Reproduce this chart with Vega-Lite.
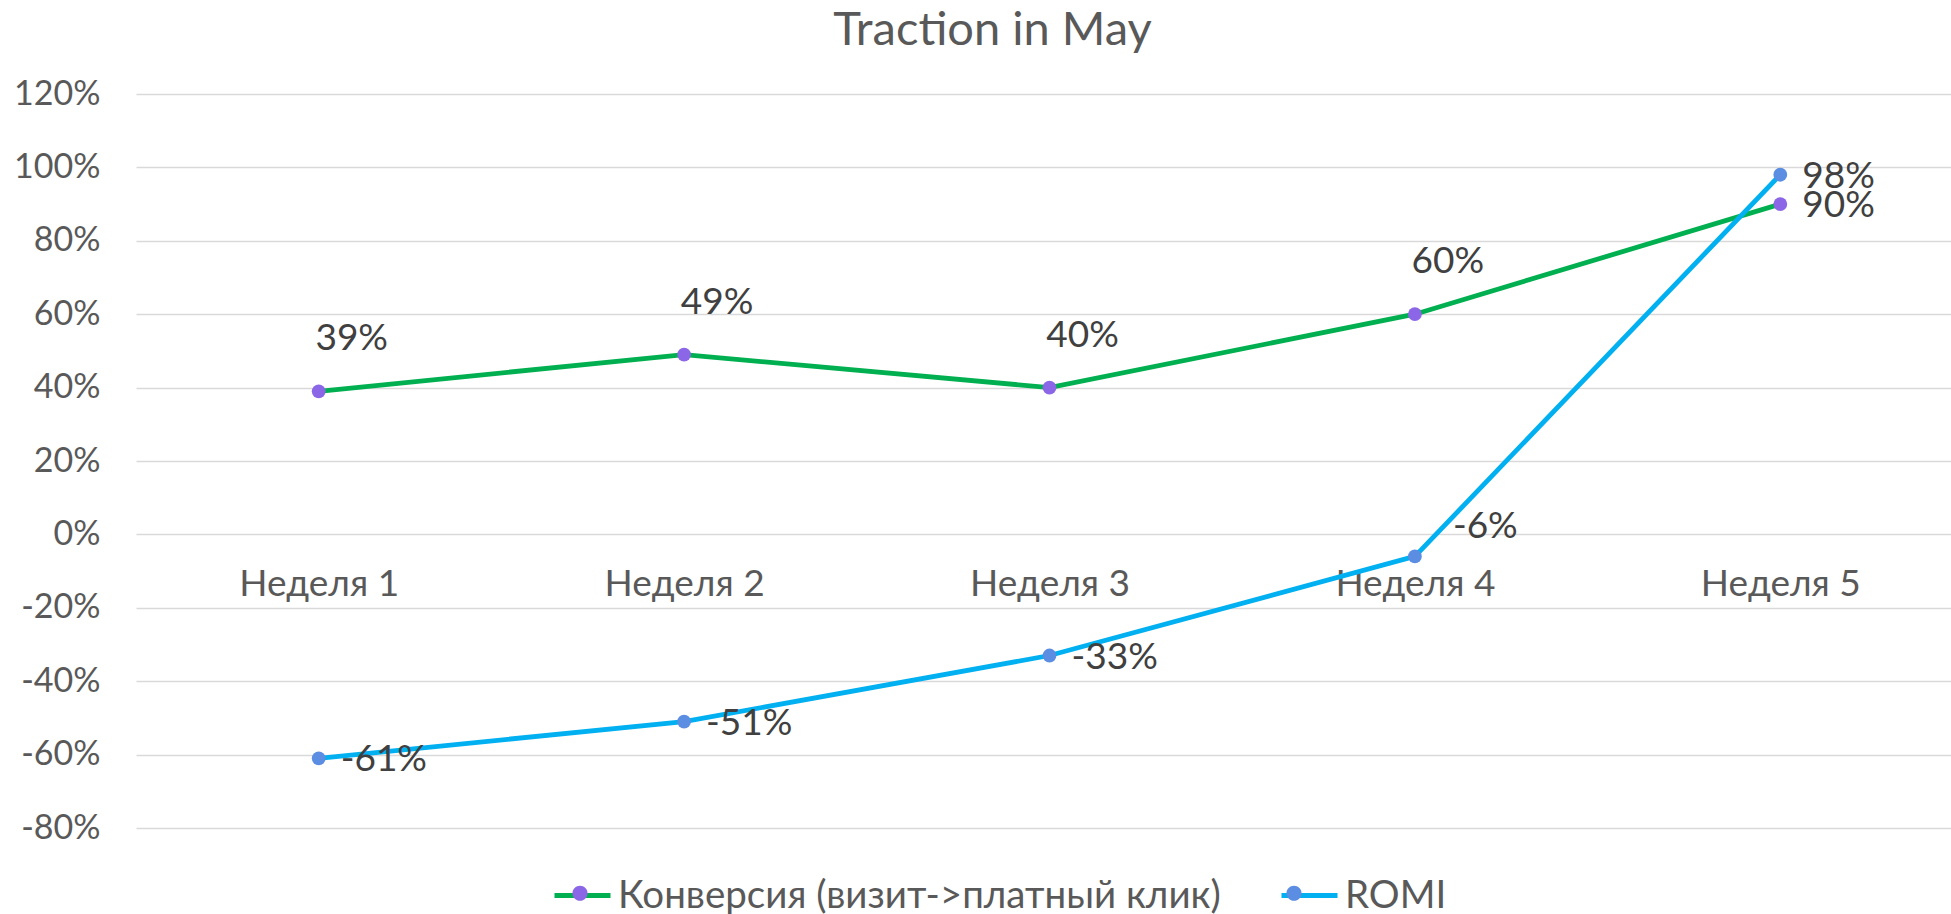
{
  "$schema": "https://vega.github.io/schema/vega-lite/v6.json",
  "width": 1827,
  "height": 734,
  "autosize": {"type": "none"},
  "padding": {"left": 136, "top": 94, "right": -12, "bottom": 86},
  "background": "white",
  "title": {
    "text": "Traction in May",
    "fontSize": 47,
    "font": "Lato",
    "fontWeight": "normal",
    "color": "#595959",
    "anchor": "middle",
    "dx": -57,
    "offset": 22
  },
  "config": {
    "view": {"stroke": null},
    "font": "Lato"
  },
  "data": {
    "values": [
      {"week": "Неделя 1", "series": "Конверсия (визит->платный клик)", "value": 0.39, "label": "39%"},
      {"week": "Неделя 2", "series": "Конверсия (визит->платный клик)", "value": 0.49, "label": "49%"},
      {"week": "Неделя 3", "series": "Конверсия (визит->платный клик)", "value": 0.40, "label": "40%"},
      {"week": "Неделя 4", "series": "Конверсия (визит->платный клик)", "value": 0.60, "label": "60%"},
      {"week": "Неделя 5", "series": "Конверсия (визит->платный клик)", "value": 0.90, "label": "90%"},
      {"week": "Неделя 1", "series": "ROMI", "value": -0.61, "label": "-61%"},
      {"week": "Неделя 2", "series": "ROMI", "value": -0.51, "label": "-51%"},
      {"week": "Неделя 3", "series": "ROMI", "value": -0.33, "label": "-33%"},
      {"week": "Неделя 4", "series": "ROMI", "value": -0.06, "label": "-6%"},
      {"week": "Неделя 5", "series": "ROMI", "value": 0.98, "label": "98%"}
    ]
  },
  "encoding": {
    "x": {
      "field": "week",
      "type": "ordinal",
      "sort": null,
      "scale": {"type": "point", "padding": 0.5},
      "axis": {
        "title": null,
        "orient": "bottom",
        "offset": -294,
        "domain": false,
        "ticks": false,
        "grid": false,
        "labelAngle": 0,
        "labelPadding": 32,
        "labelFontSize": 37,
        "labelColor": "#595959",
        "labelFont": "Lato"
      }
    },
    "y": {
      "field": "value",
      "type": "quantitative",
      "scale": {"domain": [-0.8, 1.2], "nice": false, "zero": false},
      "axis": {
        "title": null,
        "values": [-0.8, -0.6, -0.4, -0.2, 0, 0.2, 0.4, 0.6, 0.8, 1.0, 1.2],
        "format": ".0%",
        "labelExpr": "replace(datum.label, '\u2212', '-')",
        "domain": false,
        "ticks": false,
        "grid": true,
        "gridColor": "#D9D9D9",
        "gridWidth": 1.6,
        "labelPadding": 36,
        "labelFontSize": 34,
        "labelColor": "#595959",
        "labelFont": "Lato"
      }
    }
  },
  "layer": [
    {
      "mark": {"type": "line", "strokeWidth": 4.8},
      "encoding": {
        "stroke": {
          "field": "series",
          "type": "nominal",
          "scale": {"domain": ["Конверсия (визит->платный клик)", "ROMI"], "range": ["#00B050", "#00B0F0"]},
          "legend": {
            "title": null,
            "orient": "none",
            "direction": "horizontal",
            "legendX": 416,
            "legendY": 771,
            "padding": 0,
            "symbolType": "stroke",
            "symbolSize": 3136,
            "symbolStrokeWidth": 5,
            "labelFontSize": 38.5,
            "labelColor": "#595959",
            "labelFont": "Lato",
            "labelLimit": 0,
            "labelOffset": 5,
            "columnPadding": 50
          }
        }
      }
    },
    {
      "mark": {"type": "point", "filled": true, "size": 190, "opacity": 1},
      "encoding": {
        "fill": {
          "field": "series",
          "type": "nominal",
          "scale": {"domain": ["Конверсия (визит->платный клик)", "ROMI"], "range": ["#8B66E6", "#5B8DE2"]},
          "legend": {
            "title": null,
            "orient": "none",
            "direction": "horizontal",
            "legendX": 416,
            "legendY": 771,
            "padding": 0,
            "symbolType": "M-0.27,0A0.27,0.27,0,1,1,0.27,0A0.27,0.27,0,1,1,-0.27,0Z",
            "symbolSize": 3136,
            "symbolStrokeWidth": 0,
            "symbolOpacity": 1,
            "labelFontSize": 38.5,
            "labelColor": "#595959",
            "labelFont": "Lato",
            "labelLimit": 0,
            "labelOpacity": 0,
            "labelOffset": 5,
            "columnPadding": 50
          }
        }
      }
    },
    {
      "transform": [{"filter": "datum.series !== 'ROMI' && datum.week !== 'Неделя 5'"}],
      "mark": {"type": "text", "align": "center", "baseline": "middle", "dx": 33, "dy": -52, "fontSize": 37, "color": "#404040", "font": "Lato"},
      "encoding": {"text": {"field": "label", "type": "nominal"}}
    },
    {
      "transform": [{"filter": "datum.week === 'Неделя 5' || (datum.series === 'ROMI' && datum.week !== 'Неделя 4')"}],
      "mark": {"type": "text", "align": "left", "baseline": "middle", "dx": 22, "dy": 2, "fontSize": 37, "color": "#404040", "font": "Lato"},
      "encoding": {"text": {"field": "label", "type": "nominal"}}
    },
    {
      "transform": [{"filter": "datum.series === 'ROMI' && datum.week === 'Неделя 4'"}],
      "mark": {"type": "text", "align": "left", "baseline": "middle", "dx": 38, "dy": -29, "fontSize": 37, "color": "#404040", "font": "Lato"},
      "encoding": {"text": {"field": "label", "type": "nominal"}}
    }
  ],
  "resolve": {"scale": {"stroke": "independent", "fill": "independent"}}
}
